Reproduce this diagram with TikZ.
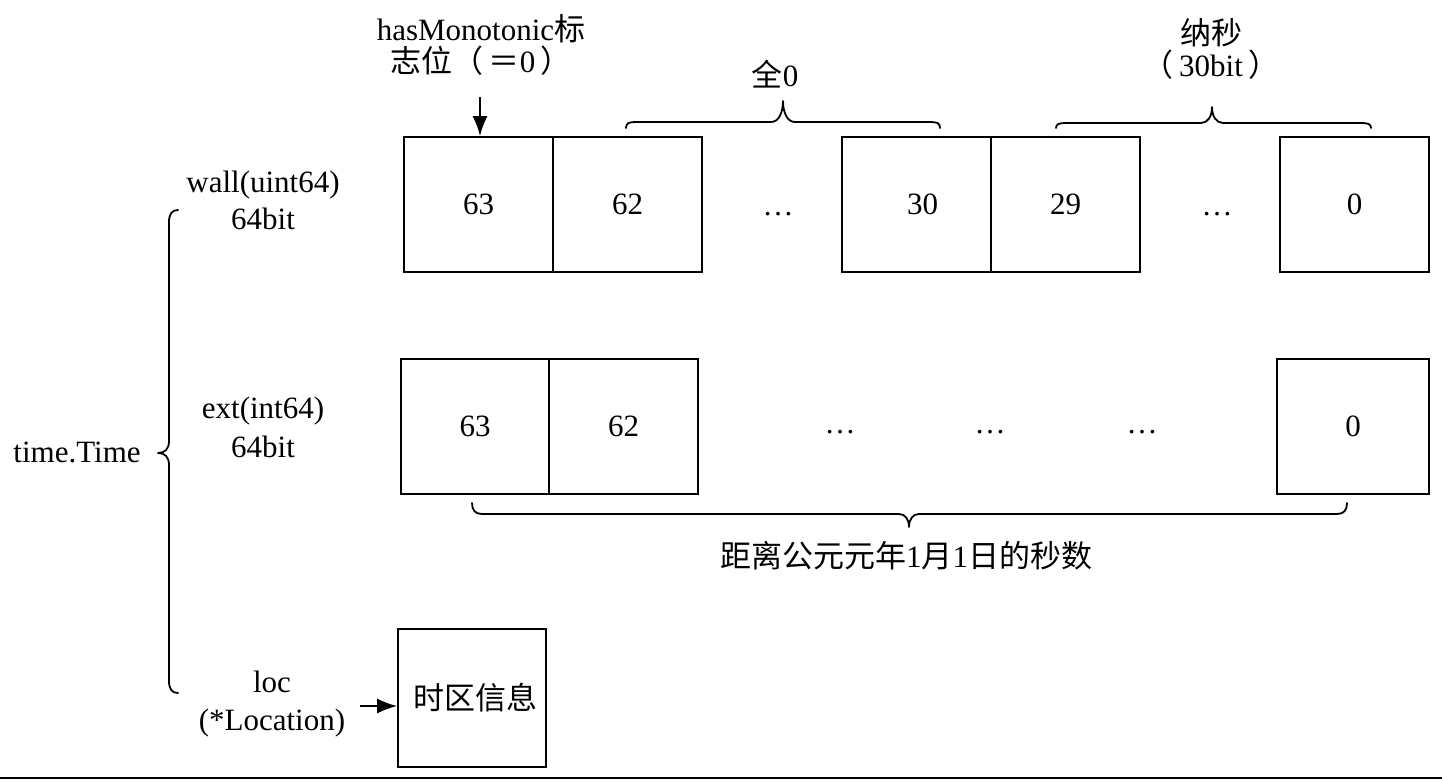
\documentclass[tikz,border=0pt]{standalone}
\usepackage{fontspec}
\setmainfont{Liberation Serif}
\newfontfamily\cjk{Noto Sans CJK SC}
\usetikzlibrary{arrows.meta}
\begin{document}
\begin{tikzpicture}[x=1pt,y=-1pt,
  every node/.style={font=\fontsize{31}{37}\selectfont, inner sep=0pt},
  cell/.style={draw, line width=1.8, minimum height=135},
  lbl/.style={align=center},
  toplbl/.style={align=center, font=\fontsize{31}{32}\selectfont},
  br/.style={line width=1.8, line cap=round, line join=round},
  arr/.style={line width=1.8, -{Latex[length=20pt,width=15pt]}}]
\useasboundingbox (0,0) rectangle (1442,780);

% top labels
\node[toplbl] (hm) at (481,45) {hasMonotonic{\cjk 标}\\{\cjk 志位（}\,{\cjk ＝}0\,{\cjk ）}};
\node (all0) at (775,74) {{\cjk 全}0};
\node[toplbl] (ns) at (1211,49) {{\cjk 纳秒}\\{\cjk （}\,30bit\,{\cjk ）}};

% row 1: wall
\node[cell, minimum width=149] (w63) at (478.5,204.5) {63};
\node[cell, minimum width=149] (w62) at (627.5,204.5) {62};
\node (wd1) at (778,214) {…};
\node[cell, minimum width=149] (w30) at (916.5,204.5) {\hspace*{12pt}30};
\node[cell, minimum width=149] (w29) at (1065.5,204.5) {29};
\node (wd2) at (1217,214) {…};
\node[cell, minimum width=149] (w0) at (1354.5,204.5) {0};

% row 2: ext
\node[cell, minimum width=148] (e63) at (475,426.5) {63};
\node[cell, minimum width=149] (e62) at (623.5,426.5) {62};
\node (ed1) at (840,432) {…};
\node (ed2) at (990,432) {…};
\node (ed3) at (1142,432) {…};
\node[cell, minimum width=152] (e0) at (1353,426.5) {0};

\node (secs) at (906,556) {{\cjk 距离公元元年}1{\cjk 月}1{\cjk 日的秒数}};

% left labels
\node (tt) at (77,452) {time.Time};
\node[lbl] (wall) at (263,200) {wall(uint64)\\64bit};
\node[lbl, font=\fontsize{31}{39}\selectfont] (ext) at (263,427) {ext(int64)\\64bit};
\node[lbl, font=\fontsize{31}{38}\selectfont] (loc) at (272,704) {loc\\(*Location)};

% location box
\node[cell, minimum width=148, minimum height=138] (tz) at (472,698) {\hspace*{6pt}{\cjk 时区信息}};

% arrows
\coordinate (hmtop) at (480,97);
\draw[arr] (hmtop) -- (hmtop |- w63.north);
\coordinate (locarr) at (360,706);
\draw[arr] (locarr) -- (locarr -| tz.west);

% braces
\draw[br] (626,128) .. controls (626,123) and (629,122) .. (636,122) -- (771,122)
  .. controls (779,122) and (783,112) .. (783,101)
  .. controls (783,112) and (787,122) .. (795,122) -- (930,122)
  .. controls (937,122) and (940,123) .. (940,128);
\draw[br] (1056,128) .. controls (1056,124) and (1059,123) .. (1066,123) -- (1201,123)
  .. controls (1208,123) and (1212,116) .. (1212,107)
  .. controls (1212,116) and (1216,123) .. (1223,123) -- (1361,123)
  .. controls (1368,123) and (1371,124) .. (1371,128);
\draw[br] (472,503) .. controls (472,510) and (475,514) .. (482,514) -- (899,514)
  .. controls (905,514) and (909,519) .. (909,527)
  .. controls (909,519) and (913,514) .. (919,514) -- (1337,514)
  .. controls (1344,514) and (1347,510) .. (1347,503);
\draw[br] (178,210) .. controls (172,210) and (169,214) .. (169,222) -- (169,441)
  .. controls (169,449) and (165,453) .. (158,453)
  .. controls (165,453) and (169,457) .. (169,465) -- (169,681)
  .. controls (169,689) and (172,693) .. (178,693);

% bottom rule
\coordinate (bl) at (0,778);
\coordinate (brr) at (1442,778);
\draw[line width=2.5] (bl) -- (brr);
\end{tikzpicture}
\end{document}
